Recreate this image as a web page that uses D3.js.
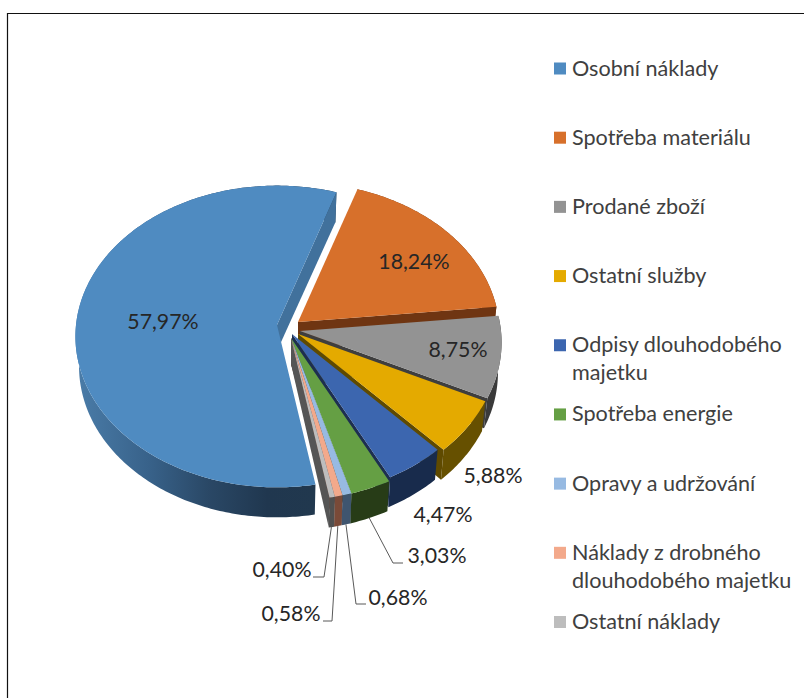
<!DOCTYPE html>
<html><head><meta charset="utf-8">
<script src="https://cdn.jsdelivr.net/npm/d3@7/dist/d3.min.js"></script>
<style>html,body{margin:0;padding:0;background:#fff;overflow:hidden}svg{display:block}text{font-family:Lato,"Open Sans",sans-serif}</style>
</head><body><svg id="c" width="804" height="698"></svg>
<script>
// ---- data ----
const categories = ["Osobní náklady","Spotřeba materiálu","Prodané zboží","Ostatní služby","Odpisy dlouhodobého majetku","Spotřeba energie","Opravy a udržování","Náklady z drobného dlouhodobého majetku","Ostatní náklady"];
const values = [57.97,18.24,8.75,5.88,4.47,3.03,0.68,0.58,0.40];
// ---- styles ----
const topColors  = ["#4f8bc1","#d7702b","#939393","#e4aa00","#3c66af","#659f44","#97bae2","#f3a98b","#bdbdbd"];
const rimColors  = ["url(#rimBlue)","#6d3513","#3a3a3a","#665000","#182b4c","#273c17","#3f556f","#7a4a38","#505050"];
const sideColors = ["#41719c","#6f3512","#3e3e3e","#5f4a00","#1d2f50","#263d18","#3f5570","#7a4a38","#555555"];
const legendLines = [["Osobní náklady"],["Spotřeba materiálu"],["Prodané zboží"],["Ostatní služby"],["Odpisy dlouhodobého","majetku"],["Spotřeba energie"],["Opravy a udržování"],["Náklady z drobného","dlouhodobého majetku"],["Ostatní náklady"]];
// ---- layout ----
const apexes = [[277,325],[298,322],[300,331],[298,334],[292,334],[291,338],[291,338],[291,338],[291,338]];
const labelPos = [[163,321],[414,261],[458,349],[493,475],[443,514],[437,555],[398,597],[291,613],[282,569]];
const leaders = {5:[[393,563],[403,563]],6:[[356,604],[366,604]],7:[[332,621],[323,621]],8:[[324,577],[313,577]]};
const rx=201, ry=150, persp=0.076, rimDepth=30, apexDepth=26, lowerShrink=0.982;
const rot = 169.8*Math.PI/180;

const svg=d3.select("#c");
const defs=svg.append("defs");
const g=defs.append("linearGradient").attr("id","rimBlue").attr("gradientUnits","userSpaceOnUse")
  .attr("x1",77).attr("x2",315).attr("y1",0).attr("y2",0);
[[0,"#4a7ca8"],[0.3,"#38628a"],[0.55,"#2a4866"],[0.8,"#20374f"],[1,"#21384e"]].forEach(s=>g.append("stop").attr("offset",s[0]).attr("stop-color",s[1]));

// frame
const frame=svg.append("g");
frame.append("line").attr("x1",7.5).attr("x2",7.5).attr("y1",13).attr("y2",698).attr("stroke","#111").attr("stroke-width",1.2);
frame.append("line").attr("x1",7).attr("x2",804).attr("y1",13.5).attr("y2",13.5).attr("stroke","#111").attr("stroke-width",1.2);

const pie=d3.pie().sort(null).startAngle(rot).endAngle(rot+2*Math.PI);
const arcs=pie(values);
const proj=(a,o)=>{const u=Math.sin(a),v=Math.cos(a),w=1+persp*v;return [o[0]+rx*u/w,o[1]-ry*v/w];};
const line=d3.line();
const samples=(a0,a1)=>{const n=Math.max(2,Math.ceil((a1-a0)/0.015));return d3.range(n+1).map(i=>a0+(a1-a0)*i/n);};
const lower=(p,o,d)=>[o[0]+(p[0]-o[0])*lowerShrink,p[1]+d];

arcs.forEach((d,i)=>{
  const o=apexes[i], as=samples(d.startAngle,d.endAngle), rim=as.map(a=>proj(a,o));
  const G=svg.append("g");
  G.append("path").attr("d",line(rim.concat(rim.map(p=>lower(p,o,rimDepth)).reverse()))+"Z").attr("fill",rimColors[i]);
  const end=rim[rim.length-1];
  G.append("path").attr("d",line([o,end,lower(end,o,rimDepth),lower(o,o,apexDepth)])+"Z").attr("fill",sideColors[i]);
  G.append("path").attr("d",line([o].concat(rim))+"Z").attr("fill",topColors[i]);
});

// leader lines
Object.keys(leaders).forEach(k=>{
  const d=arcs[k], o=apexes[k], s=lower(proj((d.startAngle+d.endAngle)/2,o),o,rimDepth);
  svg.append("path").attr("d",line([s].concat(leaders[k]))).attr("fill","none").attr("stroke","#595959").attr("stroke-width",1);
});

// labels
const fmt=v=>v.toFixed(2).replace(".",",")+"%";
values.forEach((v,i)=>{
  svg.append("text").attr("x",labelPos[i][0]).attr("y",labelPos[i][1]).attr("text-anchor","middle")
    .attr("dominant-baseline","central").attr("font-size",21.3).attr("fill","#262626").text(fmt(v));
});

// legend
const ly=d3.scaleLinear().domain([0,categories.length-1]).range([67.5,621]);
categories.forEach((c,i)=>{
  const y=ly(i);
  svg.append("rect").attr("x",554).attr("y",y-5).attr("width",12).attr("height",12).attr("fill",topColors[i]);
  legendLines[i].forEach((t,j)=>{
    svg.append("text").attr("x",572).attr("y",y+j*28).attr("dominant-baseline","central")
      .attr("font-size",21.6).attr("fill","#404040").text(t);
  });
});
</script></body></html>
